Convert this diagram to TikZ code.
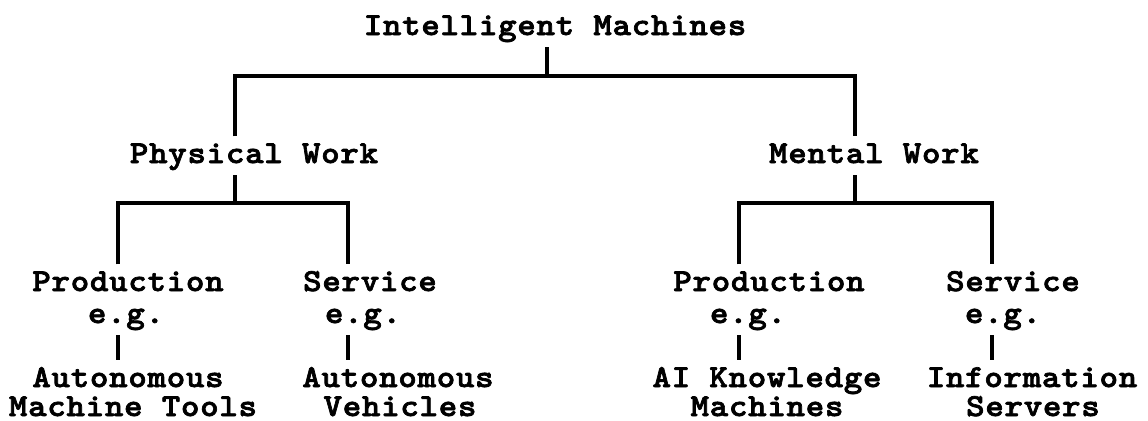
\documentclass[tikz,border=0pt]{standalone}
\usepackage{fontspec}
\usepackage{tikz}
\usetikzlibrary{positioning,calc}
\newfontfamily\tw[FakeStretch=1.1,LetterSpace=2.25,FakeBold=2.2]{lmmonolt10-bold.otf}

\begin{document}
\begin{tikzpicture}[x=0.5pt,y=-0.5pt,line width=1.6pt,
                    lbl/.style={font=\tw\fontsize{16}{18}\selectfont,inner sep=0pt,
                    anchor=base,text height=12.5pt,text depth=5.25pt}]
\useasboundingbox (0,0) rectangle (1148,420);

% top two levels
\node[lbl] (IM) at (555,35) {Intelligent Machines};
\node[lbl] (PW) at (254,163) {Physical Work};
\node[lbl] (MW) at (874,163) {Mental Work};

% physical work
\node[lbl] (PP)  at (128,291) {Production};
\node[lbl] (PPe) at (126,323) {e.g.};
\node[lbl] (PPx) at (128,387) {Autonomous};
\node[lbl] (PPy) at (133,416) {Machine Tools};
\node[lbl] (PS)  at (370,291) {Service};
\node[lbl] (PSe) at (363,323) {e.g.};
\node[lbl] (PSx) at (398,387) {Autonomous};
\node[lbl] (PSy) at (400,416) {Vehicles};

% mental work
\node[lbl] (MP)  at (769,291) {Production};
\node[lbl] (MPe) at (748,323) {e.g.};
\node[lbl] (MPx) at (767,387) {AI Knowledge};
\node[lbl] (MPy) at (767,416) {Machines};
\node[lbl] (MS)  at (1013,291) {Service};
\node[lbl] (MSe) at (1003,323) {e.g.};
\node[lbl] (MSx) at (1032,387) {Information};
\node[lbl] (MSy) at (1033,416) {Servers};

% junctions
\coordinate (j0) at (547,76);
\coordinate (j1) at (235,203);
\coordinate (j2) at (855,203);
\coordinate (c1) at (118,203);
\coordinate (c2) at (348,203);
\coordinate (c3) at (739,203);
\coordinate (c4) at (992,203);

\draw (IM.south -| j0) -- (j0);
\draw (PW.north -| j1) |- (j0) -| (MW.north -| j2);
\draw (PW.south -| j1) -- (j1);
\draw (MW.south -| j2) -- (j2);
\draw (PP.north -| c1) |- (j1) -| (PS.north -| c2);
\draw (MP.north -| c3) |- (j2) -| (MS.north -| c4);
\foreach \c/\a/\b in {c1/PPe/PPx,c2/PSe/PSx,c3/MPe/MPx,c4/MSe/MSx}
  \draw (\a.south -| \c) -- (\b.north -| \c);

\end{tikzpicture}
\end{document}
